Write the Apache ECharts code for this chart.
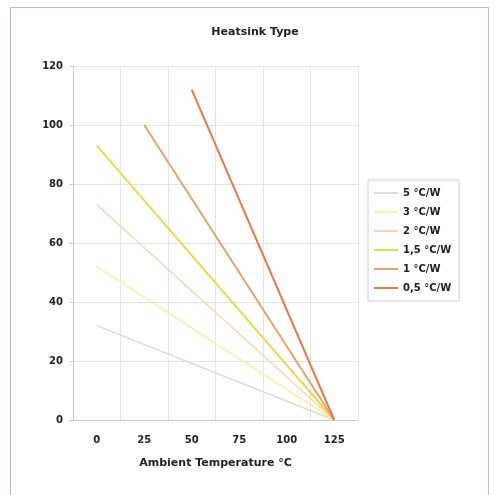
<!DOCTYPE html>
<html><head><meta charset="utf-8">
<script src="https://cdn.jsdelivr.net/npm/echarts@6/dist/echarts.min.js"></script>
<style>html,body{margin:0;padding:0;background:#fff}#c{width:498px;height:495px}
#frame{position:absolute;left:10px;top:7px;width:479px;height:490px;border:1px solid #a9bfe0;box-sizing:border-box;pointer-events:none}</style>
</head><body><div id="c"></div><div id="frame"></div>
<script>
const categories = ['0', '25', '50', '75', '100', '125'];
const seriesNames = ['5 °C/W', '3 °C/W', '2 °C/W', '1,5 °C/W', '1 °C/W', '0,5 °C/W'];
const s5 = [32, null, null, null, null, 0];
const s3 = [52, null, null, null, null, 0];
const s2 = [73, null, null, null, null, 0];
const s15 = [93, null, null, null, null, 0];
const s1 = [null, 100, null, null, null, 0];
const s05 = [null, null, 112, null, null, 0];
const yTicks = [0, 20, 40, 60, 80, 100, 120];
const colors = ['#dcdcd4', '#f7f0a8', '#f6d6ba', '#eed64e', '#e2a46c', '#e8784a'];
const widths = [1.5, 1.5, 1.5, 2, 2, 2];
const allData = [s5, s3, s2, s15, s1, s05];

const chart = echarts.init(document.getElementById('c'));
const font = 'DejaVu Sans, sans-serif';
const txt = { fontFamily: font, fontWeight: 'bold', color: '#222' };
chart.setOption({
  animation: false,
  title: { text: 'Heatsink Type', left: 250, top: 22, textAlign: 'center',
    textStyle: Object.assign({ fontSize: 11 }, txt) },
  grid: { left: 73, right: 140, top: 66, bottom: 75 },
  legend: {
    orient: 'vertical', left: 368, top: 180, padding: [8, 8, 8, 6],
    borderColor: '#d0d0d0', borderWidth: 1,
    itemWidth: 24, itemHeight: 2, itemGap: 9, icon: 'rect',
    textStyle: Object.assign({ fontSize: 10 }, txt),
    data: seriesNames
  },
  xAxis: {
    type: 'category', data: categories, boundaryGap: true,
    name: 'Ambient Temperature °C', nameLocation: 'middle', nameGap: 38,
    nameTextStyle: Object.assign({ fontSize: 11 }, txt),
    axisLine: { lineStyle: { color: '#c8c8c8' } },
    axisTick: { show: false },
    axisLabel: Object.assign({ fontSize: 10, margin: 15 }, txt),
    splitLine: { show: true, lineStyle: { color: '#e4e4e4' } }
  },
  yAxis: {
    type: 'value', min: 0, max: 120, interval: 20,
    axisLine: { show: true, lineStyle: { color: '#c8c8c8' } },
    axisTick: { show: true, length: 3, lineStyle: { color: '#c8c8c8' } },
    axisLabel: Object.assign({ fontSize: 10, margin: 10,
      formatter: v => yTicks.includes(v) ? String(v) : '' }, txt),
    splitLine: { show: true, lineStyle: { color: '#e4e4e4' } }
  },
  series: seriesNames.map((n, i) => ({
    name: n, type: 'line', data: allData[i], connectNulls: true,
    symbol: 'none', color: colors[i],
    lineStyle: { width: widths[i], color: colors[i] }
  }))
});
</script></body></html>
